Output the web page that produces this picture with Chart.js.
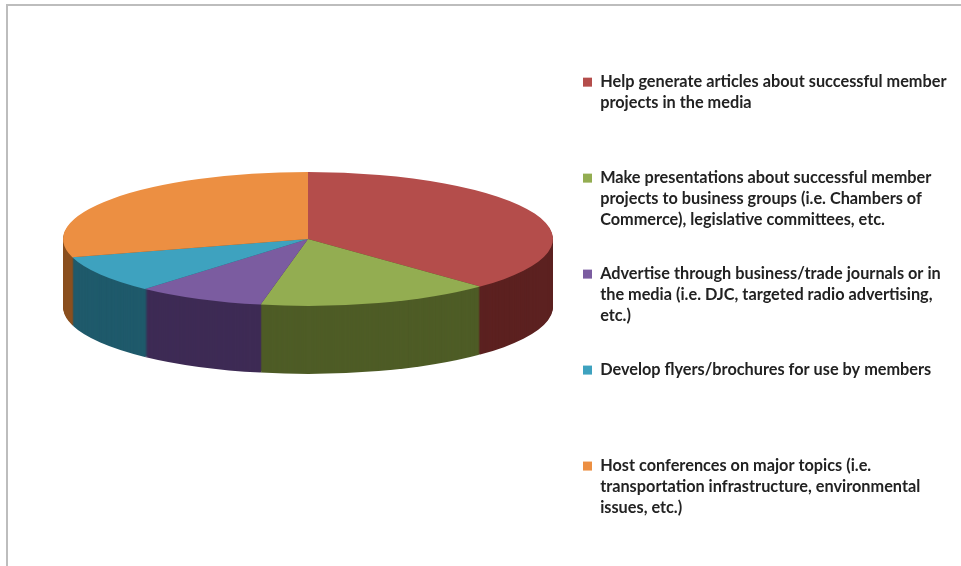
<!DOCTYPE html>
<html>
<head>
<meta charset="utf-8">
<style>
  html, body { margin: 0; padding: 0; background: #fff; }
  #wrap { position: relative; width: 961px; height: 566px; overflow: hidden; }
  #frame { position: absolute; left: 6px; top: 4px; right: -4px; bottom: -4px;
           border-top: 2px solid #bdbdbd; border-left: 2px solid #bdbdbd; }
  canvas { position: absolute; left: 0; top: 0; }
</style>
<script src="https://cdn.jsdelivr.net/npm/chart.js@4"></script>
</head>
<body>
<div id="wrap">
  <canvas id="pie" width="961" height="566"></canvas>
  <div id="frame"></div>
</div>
<script>
// Share of each outreach activity (percent)
const categories = [
  ["Help generate articles about successful member", "projects in the media"],
  ["Make presentations about successful member", "projects to business groups (i.e. Chambers of", "Commerce), legislative committees, etc."],
  ["Advertise through business/trade journals or in", "the media (i.e. DJC, targeted radio advertising,", "etc.)"],
  ["Develop flyers/brochures for use by members"],
  ["Host conferences on major topics (i.e.", "transportation infrastructure, environmental", "issues, etc.)"]
];
const values = [37.6, 15.5, 8.5, 9.0, 29.4];
const topColors = ["#b44d4b", "#93ad51", "#7b5ca0", "#3ea2bf", "#ec8f42"];
const sideColors = ["#5c2120", "#4e5c26", "#3e2b55", "#1f5a6b", "#8a4f1e"];

// Every legend entry occupies the same four-line slot
const LEGEND_SLOT_LINES = 4;
const legendLabels = categories.map(lines => {
  const slot = lines.slice();
  while (slot.length < LEGEND_SLOT_LINES) slot.push("");
  return slot;
});

// Flattening of the disc, its thickness and where its centre sits on the page
const TILT = 0.273;
const THICKNESS = 68;
const DISC_CENTER_Y = 239;

// Squashes the library's arcs into a tilted disc and stacks darker copies for the rim
const tiltedDisc = {
  id: "tiltedDisc",
  beforeDatasetsDraw(chart) {
    const ctx = chart.ctx;
    const arcs = chart.getDatasetMeta(0).data;
    const cy = arcs[0].y;
    const project = dy => {
      ctx.setTransform(1, 0, 0, TILT, 0, DISC_CENTER_Y + dy - cy * TILT);
    };
    ctx.save();
    for (let d = THICKNESS; d >= 1; d--) {
      project(d);
      arcs.forEach((arc, i) => {
        const original = arc.options;
        arc.options = Object.assign({}, original, { backgroundColor: sideColors[i], borderWidth: 0 });
        arc.draw(ctx);
        arc.options = original;
      });
    }
    project(0);
  },
  afterDatasetsDraw(chart) {
    chart.ctx.restore();
  }
};

new Chart(document.getElementById("pie"), {
  type: "pie",
  data: {
    labels: legendLabels,
    datasets: [{
      data: values,
      backgroundColor: topColors,
      borderWidth: 0,
      clip: false
    }]
  },
  options: {
    responsive: false,
    animation: false,
    layout: { padding: { left: 45, top: 62, bottom: 14, right: 0 } },
    plugins: {
      tooltip: { enabled: false },
      legend: {
        position: "right",
        align: "start",
        maxWidth: 390,
        labels: {
          boxWidth: 9,
          boxHeight: 9,
          padding: 12,
          color: "#222222",
          font: { family: "Lato", size: 16.3, weight: "bold", lineHeight: 1.288 }
        }
      }
    }
  },
  plugins: [tiltedDisc]
});
</script>
</body>
</html>
